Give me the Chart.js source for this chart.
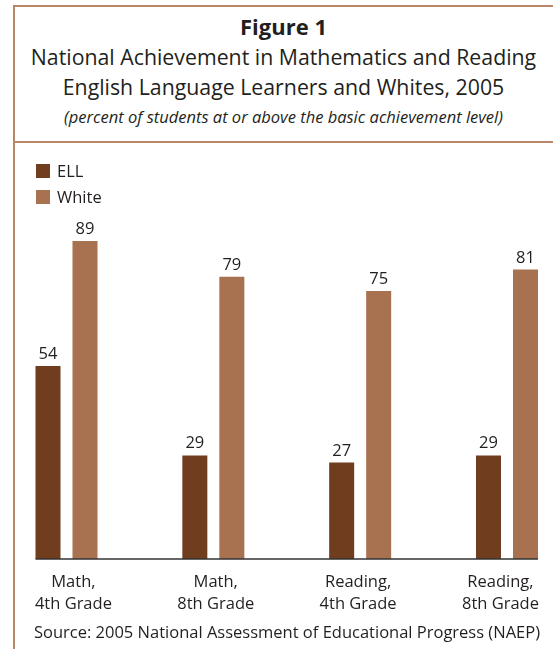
<!DOCTYPE html>
<html>
<head>
<meta charset="utf-8">
<script src="https://cdn.jsdelivr.net/npm/chart.js@4"></script>
<style>
  html, body { margin: 0; padding: 0; background: #fff; }
  body { width: 553px; height: 649px; position: relative; overflow: hidden; font-family: "Open Sans", sans-serif; color: #231f20; }
  .rule { position: absolute; background: #b8876a; z-index: 2; }
  .t { position: absolute; left: 13px; width: 541px; text-align: center; line-height: 1; white-space: nowrap; }
  #chartBox { position: absolute; left: 0; top: 143px; width: 553px; height: 506px; }
  #legend { position: absolute; left: 36px; top: 0; }
  .lg { position: absolute; left: 0; white-space: nowrap; font-size: 16.5px; line-height: 1; }
  .lg span.sw { position: absolute; left: 0; width: 14px; height: 14px; }
  .lg span.tx { position: absolute; left: 21px; }
  #source { position: absolute; left: 20px; width: 534px; text-align: center; font-size: 16.5px; line-height: 1; top: 624px; white-space: nowrap; }
</style>
</head>
<body>
<div class="rule" style="left:13px; top:5px; width:540px; height:2px;"></div>
<div class="rule" style="left:13px; top:5px; width:2px; height:644px;"></div>
<div class="rule" style="left:13px; top:141px; width:540px; height:2px;"></div>

<div class="t" style="top:15px; font-size:22px; font-weight:bold;">Figure 1</div>
<div class="t" style="top:46px; font-size:21.3px;">National Achievement in Mathematics and Reading</div>
<div class="t" style="top:76px; font-size:21.3px;">English Language Learners and Whites, 2005</div>
<div class="t" style="top:109px; font-size:16.5px; font-style:italic;">(percent of students at or above the basic achievement level)</div>

<div id="chartBox"><canvas id="chart"></canvas></div>
<div id="legend"></div>
<div id="source">Source: 2005 National Assessment of Educational Progress (NAEP)</div>

<script>
// data
const categories = [['Math,', '4th Grade'], ['Math,', '8th Grade'], ['Reading,', '4th Grade'], ['Reading,', '8th Grade']];
const seriesNames = ['ELL', 'White'];
const ellValues = [54, 29, 27, 29];
const whiteValues = [89, 79, 75, 81];
const seriesColors = ['#713d1f', '#a87250'];

// value labels above each bar
const valueLabels = {
  id: 'valueLabels',
  afterDatasetsDraw(chart) {
    const ctx = chart.ctx;
    ctx.save();
    ctx.font = '16.5px "Open Sans"';
    ctx.fillStyle = '#231f20';
    ctx.textAlign = 'center';
    ctx.textBaseline = 'alphabetic';
    chart.data.datasets.forEach((ds, i) => {
      chart.getDatasetMeta(i).data.forEach((bar, j) => {
        ctx.fillText(String(ds.data[j]), bar.x, bar.y - 7);
      });
    });
    ctx.restore();
  }
};

// baseline running from first to last bar
const baseLine = {
  id: 'baseLine',
  afterDatasetsDraw(chart) {
    const first = chart.getDatasetMeta(0).data[0];
    const lastMeta = chart.getDatasetMeta(chart.data.datasets.length - 1).data;
    const last = lastMeta[lastMeta.length - 1];
    const y = chart.scales.y.getPixelForValue(0);
    const ctx = chart.ctx;
    ctx.save();
    ctx.strokeStyle = '#333';
    ctx.lineWidth = 1.5;
    ctx.beginPath();
    ctx.moveTo(first.x - first.width / 2, y);
    ctx.lineTo(last.x + last.width / 2, y);
    ctx.stroke();
    ctx.restore();
  }
};

const chart = new Chart(document.getElementById('chart'), {
  type: 'bar',
  data: {
    labels: categories,
    datasets: [
      { label: seriesNames[0], data: ellValues, backgroundColor: seriesColors[0], clip: false },
      { label: seriesNames[1], data: whiteValues, backgroundColor: seriesColors[1], clip: false }
    ]
  },
  options: {
    responsive: true,
    maintainAspectRatio: false,
    animation: false,
    categoryPercentage: 0.504,
    barPercentage: 0.676,
    layout: { padding: { left: 66.5, right: 46, top: 58.7, bottom: 0 } },
    plugins: {
      legend: { display: false },
      tooltip: { enabled: false }
    },
    scales: {
      x: { type: 'category', offset: false, display: false },
      // the category names are spaced a bit tighter than the bar groups
      labelsAxis: {
        type: 'linear',
        position: 'bottom',
        offset: false,
        bounds: 'data',
        min: -0.0485,
        max: 3.046,
        grid: { display: false, drawTicks: false, offset: false },
        border: { display: false },
        afterBuildTicks(axis) {
          axis.ticks = categories.map((c, i) => ({ value: i }));
        },
        ticks: {
          autoSkip: false,
          maxRotation: 0,
          padding: 12,
          color: '#231f20',
          font: { family: '"Open Sans"', size: 16.5, lineHeight: 1.333 },
          callback: (v) => categories[v] ?? ''
        },
        afterFit(axis) { axis.height = 90; }
      },
      y: { display: false, min: 0, max: 100 }
    }
  },
  plugins: [valueLabels, baseLine]
});

// legend built from the chart's datasets
const legend = document.getElementById('legend');
chart.data.datasets.forEach((ds, i) => {
  const row = document.createElement('div');
  row.className = 'lg';
  row.style.top = (164 + i * 26) + 'px';
  row.innerHTML = '<span class="sw" style="background:' + ds.backgroundColor + '"></span>' +
    '<span class="tx" style="top:-1px">' + ds.label + '</span>';
  legend.appendChild(row);
});
</script>
</body>
</html>
